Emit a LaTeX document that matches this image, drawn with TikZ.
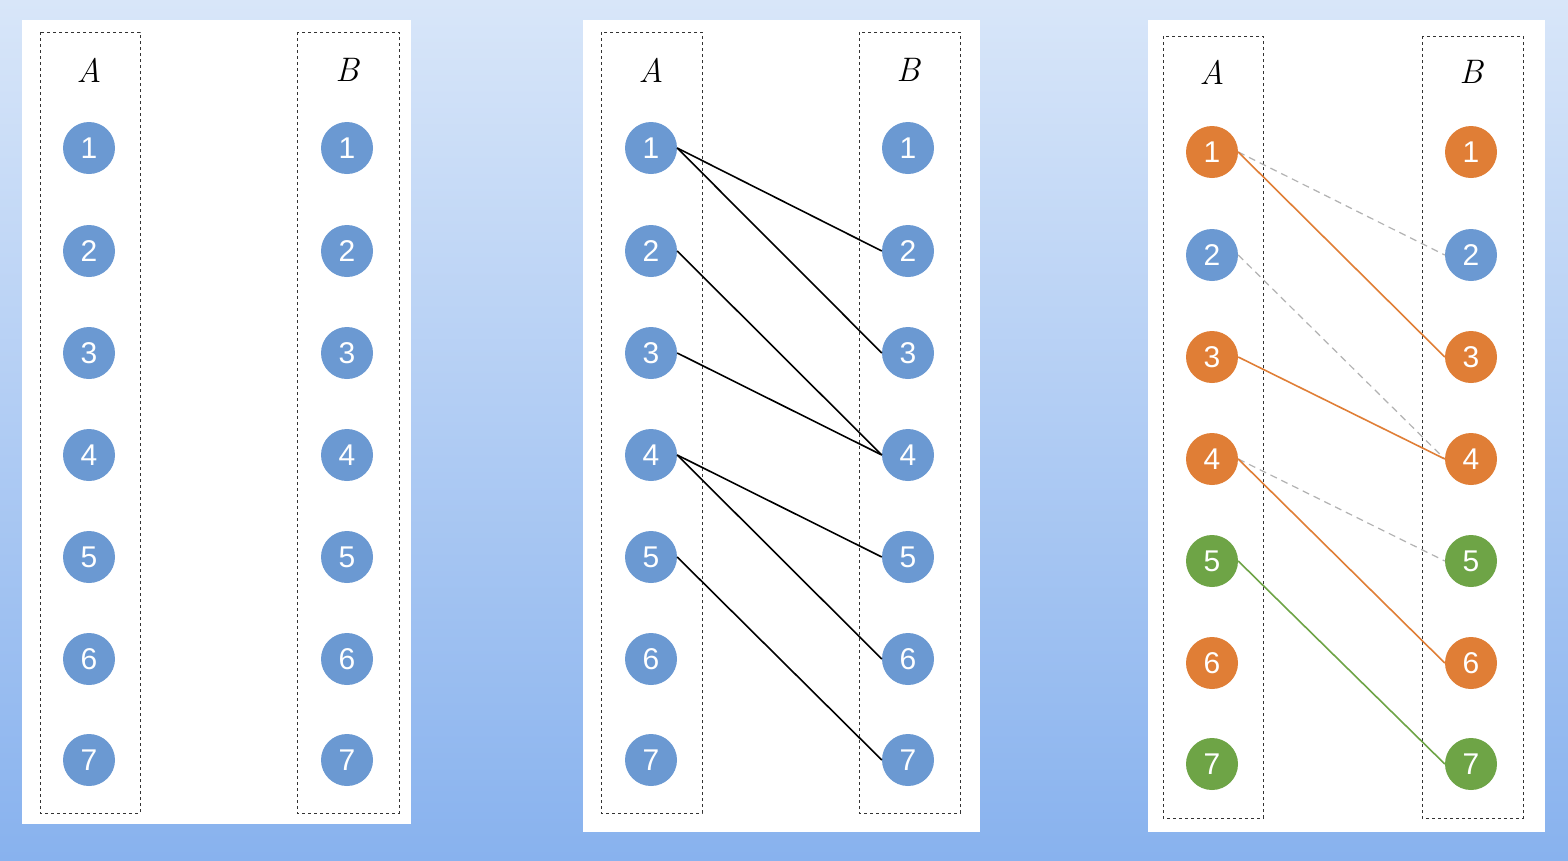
\documentclass[tikz,border=0pt]{standalone}
\usepackage{fontspec}
\newfontfamily\numfont{Liberation Sans}
\begin{document}
\definecolor{bgtop}{HTML}{D8E6F9}
\definecolor{bgbot}{HTML}{88B2EE}
\definecolor{cblue}{HTML}{6B99D2}
\definecolor{corange}{HTML}{E07E36}
\definecolor{cgreen}{HTML}{6EA446}
\begin{tikzpicture}[x=1pt,y=-1pt,
  panel/.style={fill=white,draw=none},
  grp/.style={draw=black!80,dashed,line width=0.8pt},
  ball/.style={circle,minimum size=52pt,inner sep=0pt,text=white,font=\numfont\fontsize{30}{30}\selectfont},
  hdr/.style={font=\itshape\fontsize{34}{34}\selectfont},
  blk/.style={line width=1.6pt,black},
  org/.style={line width=1.6pt,corange},
  grn/.style={line width=1.6pt,cgreen},
  gry/.style={line width=1.2pt,gray!60,dashed,dash pattern=on 7pt off 5pt}]
\shade[top color=bgtop,bottom color=bgbot] (0,0) rectangle (1568,860);
\useasboundingbox (0,0) rectangle (1568,860);
\fill[panel] (22,20) rectangle (411,824);
\fill[panel] (583,20) rectangle (980,832);
\fill[panel] (1148,20) rectangle (1545,832);
\draw[grp] (40,32) rectangle (140,813);
\draw[grp] (297,32) rectangle (399,813);
\draw[grp] (601,32) rectangle (702,813);
\draw[grp] (859,32) rectangle (960,813);
\draw[grp] (1163,36) rectangle (1263,818);
\draw[grp] (1422,36) rectangle (1523,818);
\node[hdr] (pa1) at (89,70) {A};
\node[hdr] (pb1) at (347,70) {B};
\node[hdr] (pa2) at (651,70) {A};
\node[hdr] (pb2) at (908,70) {B};
\node[hdr] (pa3) at (1212,72) {A};
\node[hdr] (pb3) at (1471,72) {B};
\foreach \i/\y in {1/148,2/251,3/353,4/455,5/557,6/659,7/760}{
  \node[ball,fill=cblue] (a1\i) at (89,\y) {\i};
  \node[ball,fill=cblue] (b1\i) at (347,\y) {\i};
  \node[ball,fill=cblue] (a2\i) at (651,\y) {\i};
  \node[ball,fill=cblue] (b2\i) at (908,\y) {\i};
}
\foreach \i/\y/\ca/\cb in {1/152/corange/corange,2/255/cblue/cblue,3/357/corange/corange,4/459/corange/corange,5/561/cgreen/cgreen,6/663/corange/corange,7/764/cgreen/cgreen}{
  \node[ball,fill=\ca] (a3\i) at (1212,\y) {\i};
  \node[ball,fill=\cb] (b3\i) at (1471,\y) {\i};
}
\foreach \s/\t in {1/2,1/3,2/4,3/4,4/5,4/6,5/7}{
  \draw[blk] (a2\s.east) -- (b2\t.west);
}
\draw[gry] (a31.east) -- (b32.west);
\draw[gry] (a32.east) -- (b34.west);
\draw[gry] (a34.east) -- (b35.west);
\draw[org] (a31.east) -- (b33.west);
\draw[org] (a33.east) -- (b34.west);
\draw[org] (a34.east) -- (b36.west);
\draw[grn] (a35.east) -- (b37.west);
\end{tikzpicture}
\end{document}
